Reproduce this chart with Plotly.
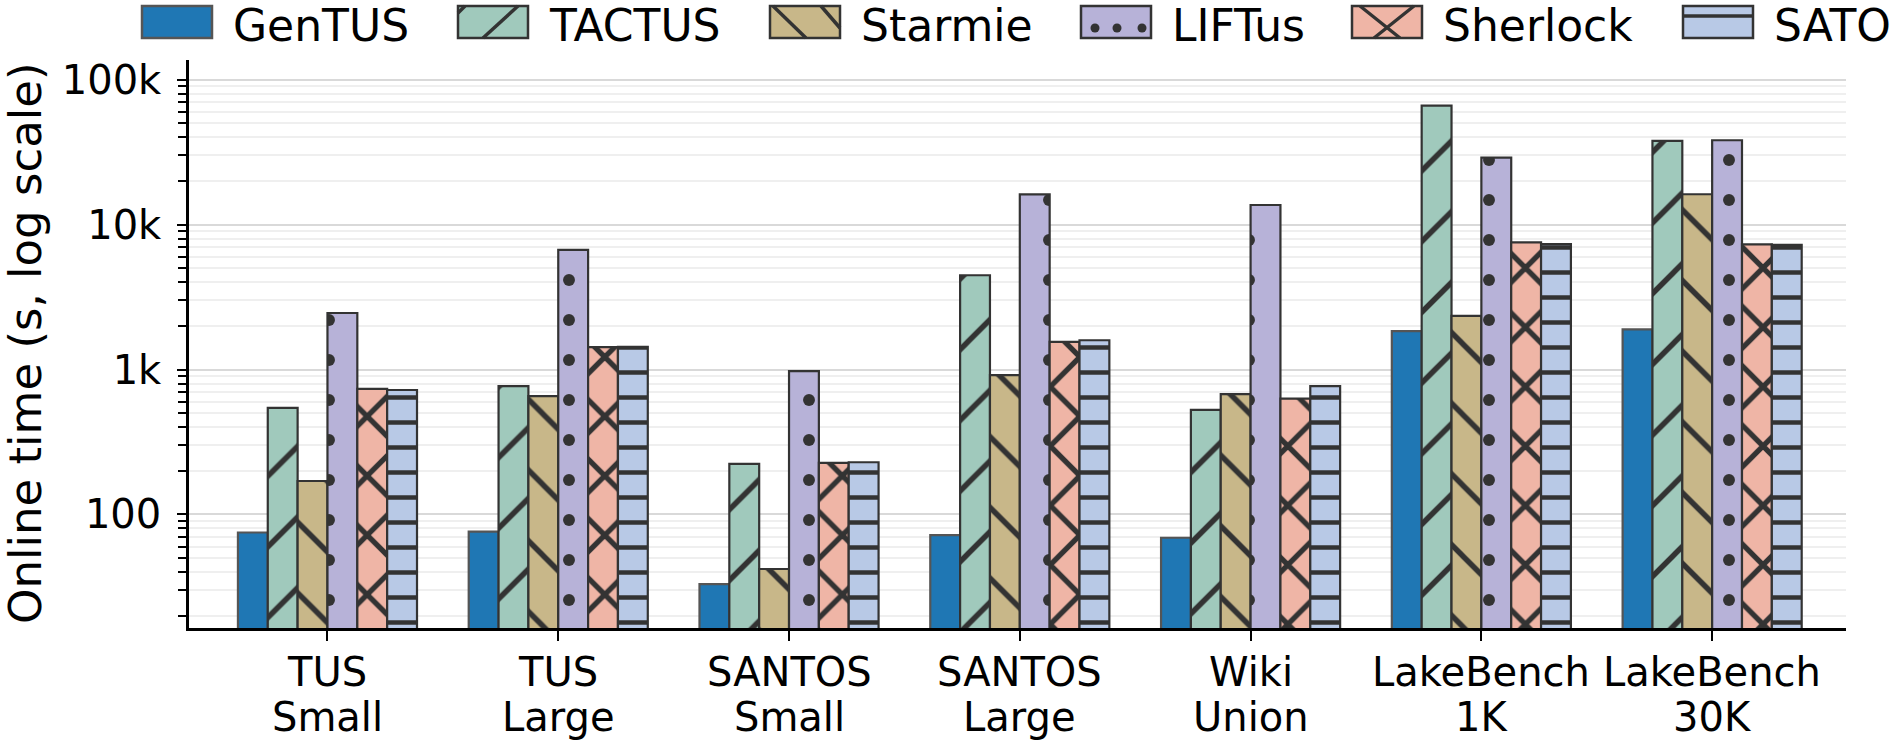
import plotly.graph_objects as go

# ---------------- data ----------------
cat_line1 = ["TUS", "TUS", "SANTOS", "SANTOS", "Wiki", "LakeBench", "LakeBench"]
cat_line2 = ["Small", "Large", "Small", "Large", "Union", "1K", "30K"]
categories = [f"{a} {b}" for a, b in zip(cat_line1, cat_line2)]

gentus = [75, 76, 33, 72, 69, 1840, 1890]
tactus = [543, 767, 223, 4470, 526, 66300, 37800]
starmie = [170, 655, 42, 914, 676, 2345, 16200]
liftus = [2455, 6700, 973, 16170, 13650, 28970, 38200]
sherlock = [735, 1425, 227, 1550, 630, 7550, 7300]
sato = [722, 1431, 229, 1592, 767, 7330, 7245]

series_names = ["GenTUS", "TACTUS", "Starmie", "LIFTus", "Sherlock", "SATO"]
series_values = [gentus, tactus, starmie, liftus, sherlock, sato]

y_tickvals = [100, 1000, 10000, 100000]
y_ticktext = ["100", "1k", "10k", "100k"]

# ---------------- styles ----------------
colors = ["#1f77b4", "#a0c9bc", "#c8b789", "#b7b2d8", "#efb5a6", "#b8c9e6"]
patterns = [
    dict(shape=""),
    dict(shape="/", size=50, solidity=0.11),
    dict(shape="\\", size=50, solidity=0.11),
    dict(shape=".", size=40, solidity=0.07),
    dict(shape="x", size=42, solidity=0.24),
    dict(shape="-", size=25, solidity=0.18),
]
DARK = "#333333"
FONT = "DejaVu Sans"

W, H = 1890, 740
PL, PR, PT, PB = 189, 1846, 60, 628


def px(x):
    return (x - PL) / (PR - PL)


def py(y):
    return (PB - y) / (PB - PT)


fig = go.Figure()
for name, vals, col, pat in zip(series_names, series_values, colors, patterns):
    p = dict(pat)
    if p["shape"]:
        p.update(fgcolor=DARK, bgcolor=col, fgopacity=1, fillmode="replace")
    fig.add_trace(go.Bar(
        name=name, x=categories, y=vals,
        marker=dict(color=col,
                    line=dict(color=DARK if p["shape"] else "#555555", width=2.2),
                    pattern=p),
        showlegend=False,
    ))

# minor tick positions for log axis
minor_vals = [m * 10 ** e for e in range(1, 5) for m in range(2, 10)]

fig.update_layout(
    width=W, height=H,
    margin=dict(l=PL, r=W - PR, t=PT, b=H - PB),
    paper_bgcolor="white", plot_bgcolor="white",
    barmode="group", bargap=0.224, bargroupgap=0,
    font=dict(family=FONT, color="black", size=40),
    showlegend=False,
)
fig.update_xaxes(
    range=[-0.6, 6.58], showgrid=False,
    showline=True, linecolor="black", linewidth=2.5,
    ticks="outside", ticklen=10, tickwidth=1.5, tickcolor="black",
    showticklabels=False,
)
fig.update_yaxes(
    type="log", range=[1.216, 5.136],
    tickvals=y_tickvals, ticktext=y_ticktext,
    tickfont=dict(size=40, family=FONT),
    showline=True, linecolor="black", linewidth=2.5,
    ticks="outside", ticklen=9, tickwidth=2, tickcolor="black",
    ticklabelstandoff=8,
    showgrid=True, gridcolor="#d9d9d9", gridwidth=2,
    zeroline=False,
    minor=dict(tickvals=minor_vals, ticks="outside", ticklen=8, tickwidth=1.5,
               tickcolor="black", showgrid=True, gridcolor="#efefef", gridwidth=1.5),
)

annotations = []
shapes = []
# category labels (two lines)
for cat, l1, l2 in zip(categories, cat_line1, cat_line2):
    annotations.append(dict(x=cat, xref="x", y=py(647), yref="paper", text=l1,
                            showarrow=False, xanchor="center", yanchor="top",
                            font=dict(size=40, family=FONT, color="black")))
    annotations.append(dict(x=cat, xref="x", y=py(692), yref="paper", text=l2,
                            showarrow=False, xanchor="center", yanchor="top",
                            font=dict(size=40, family=FONT, color="black")))

# y axis title
annotations.append(dict(x=px(25), xref="paper", y=0.5, yref="paper",
                        text="Online time (s, log scale)", textangle=-90,
                        showarrow=False, xanchor="center", yanchor="middle",
                        font=dict(size=45, family=FONT, color="black")))

# custom legend
sw_x0 = [142, 458, 770, 1081, 1352, 1683]
SW_W, SY0, SY1 = 70, 6, 38
for i, (name, col) in enumerate(zip(series_names, colors)):
    x0 = sw_x0[i]
    shapes.append(dict(type="rect", xref="paper", yref="paper",
                       x0=px(x0), x1=px(x0 + SW_W), y0=py(SY1), y1=py(SY0),
                       fillcolor=col, line=dict(color=DARK if i else "#555555", width=2.5)))
    segs = []
    if i == 1:
        segs = [((x0 + 25, SY1), (x0 + 60, SY0)), ((x0, SY0 + 7), (x0 + 7, SY0))]
    elif i == 2:
        segs = [((x0 + 3, SY0), (x0 + 36, SY1)), ((x0 + 51, SY0), (x0 + 70, SY0 + 22))]
    elif i == 4:
        segs = [((x0 + 8, SY0), (x0 + 48, SY1)), ((x0 + 22, SY1), (x0 + 62, SY0))]
    elif i == 5:
        segs = [((x0, SY0 + 10), (x0 + SW_W, SY0 + 10))]
    for (a, b) in segs:
        shapes.append(dict(type="line", xref="paper", yref="paper",
                           x0=px(a[0]), y0=py(a[1]), x1=px(b[0]), y1=py(b[1]),
                           line=dict(color=DARK, width=3.5)))
    if i == 3:
        for (cx, cy) in [(x0 + 14, SY0 + 22), (x0 + 36, SY0 + 22), (x0 + 61, SY0 + 22)]:
            shapes.append(dict(type="circle", xref="paper", yref="paper",
                               x0=px(cx - 4.5), x1=px(cx + 4.5), y0=py(cy + 4.5), y1=py(cy - 4.5),
                               fillcolor=DARK, line=dict(width=0)))
    annotations.append(dict(x=px(x0 + SW_W + 19), xref="paper", y=py(26), yref="paper",
                            text=name, showarrow=False, xanchor="left", yanchor="middle",
                            font=dict(size=44, family=FONT, color="black")))

fig.update_layout(annotations=annotations, shapes=shapes)
fig.write_html("out.html")
